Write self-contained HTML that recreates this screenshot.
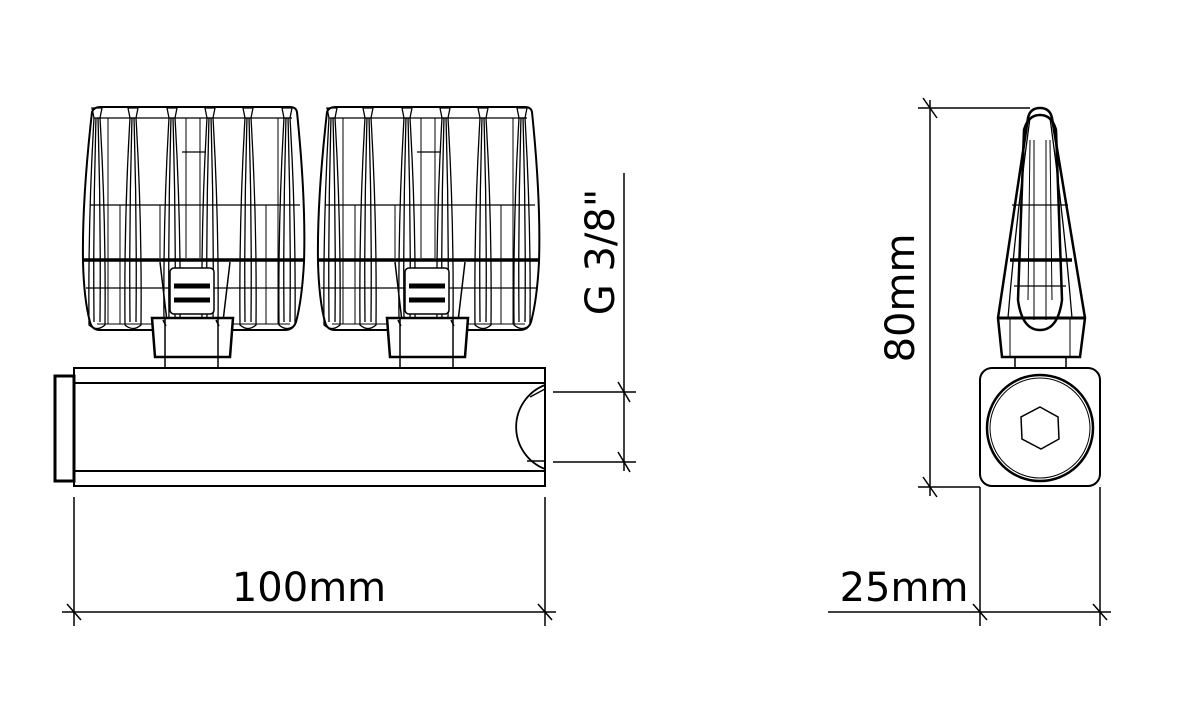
<!DOCTYPE html>
<html><head><meta charset="utf-8"><style>
html,body{margin:0;padding:0;background:#fff;}
svg{display:block}
text{font-family:"DejaVu Sans","Liberation Sans",sans-serif;fill:#000}
</style></head><body>
<svg width="1181" height="708" viewBox="0 0 1181 708" xmlns="http://www.w3.org/2000/svg">
<defs>
<g id="rib" fill="none" stroke="#000" stroke-width="1.3">
  <path d="M-5,108 L5,108 L3,118 L-3,118 Z"/>
  <path d="M-3,118 Q-9,220 -8,325 Q0,332 8,325 Q9,220 3,118"/>
  <path d="M-1,118 Q-4,220 -3,322 M1,118 Q4,220 3,322"/>
</g>
<g id="valve" fill="none" stroke="#000">
  <path d="M92,112 Q94,107 100,107 L290,107 Q296,107 297,112 Q306,200 304,262 Q302,300 296,322 Q293,330 285,330 L100,330 Q92,330 90,322 Q84,300 83,262 Q82,200 92,112 Z" stroke-width="2"/>
  <path d="M97,118 L292,118" stroke-width="1.2"/>
  <path d="M90,205 L300,205" stroke-width="1.2"/>
  <path d="M83,260 L304,260" stroke-width="3.5"/>
  <path d="M86,288 L301,288" stroke-width="1.2"/>
  <path d="M97,324 L290,324" stroke-width="1"/>
  <path d="M182,152 L206,152" stroke-width="1.2"/>
  <use href="#rib" transform="translate(97,0)"/>
  <use href="#rib" transform="translate(133,0)"/>
  <use href="#rib" transform="translate(172,0)"/>
  <use href="#rib" transform="translate(210,0)"/>
  <use href="#rib" transform="translate(248,0)"/>
  <use href="#rib" transform="translate(287,0)"/>
  <path d="M108,118 L108,324 M120,205 L120,324 M160,205 L160,258 M186,118 L186,258 M200,118 L200,258 M266,205 L266,324 M278,118 L278,324" stroke-width="1"/>
  <path d="M160,262 L168,330 L222,330 L230,262" stroke-width="1.5"/>
  <rect x="170" y="268" width="44" height="46" rx="4" fill="#fff" stroke-width="1.5"/>
  <path d="M174,286 L210,286 M174,300 L210,300" stroke-width="5"/>
  <path d="M152,318 L233,318 L230,357 L155,357 Z" fill="#fff" stroke-width="2.5"/>
  <path d="M165,318 L165,368 M218,318 L218,368" stroke-width="1.5"/>
  <path d="M163,320 l3,6 M216,320 l3,6" stroke-width="1.5"/>
</g>
</defs>

<g fill="none" stroke="#000">
  <use href="#valve"/>
  <use href="#valve" transform="translate(235,0)"/>

  <rect x="74" y="368" width="471" height="118" stroke-width="2"/>
  <path d="M74,383 L545,383 M74,471 L545,471" stroke-width="2"/>
  <rect x="55" y="376" width="19" height="105" stroke-width="3"/>
  <path d="M545,385 A45,45 0 0 0 545,469" stroke-width="1.8"/>
  <path d="M530,397 L545,389" stroke-width="1.5"/>
  <path d="M527,461 L545,461" stroke-width="1.5"/>

  <path d="M553,392 L636,392 M553,462 L636,462 M624,173 L624,471" stroke-width="1.5"/>
  <path d="M618,382 L630,402 M618,452 L630,472" stroke-width="1.5"/>

  <path d="M74,497 L74,626 M545,497 L545,626 M62,612 L556,612" stroke-width="1.5"/>
  <path d="M67,604 L81,620 M538,604 L552,620" stroke-width="1.5"/>

  <path d="M1028,118 Q1030,108 1040,108 Q1050,108 1052,118 L1085,318 L1080,357 L1002,357 L998,318 Z" stroke-width="2.5"/>
  <path d="M1030,118 Q1016,220 1008,318 M1050,118 Q1064,220 1072,318" stroke-width="1.3"/>
  <path d="M1024,130 L1018,300 Q1022,330 1040,330 Q1058,330 1062,300 L1056,130 Q1052,115 1040,115 Q1028,115 1024,130 Z" stroke-width="2.5"/>
  <path d="M1030,140 L1028,300 M1050,140 L1052,300 M1034,140 L1034,320 M1046,140 L1046,320" stroke-width="1"/>
  <path d="M1012,205 L1068,205" stroke-width="1.2"/>
  <path d="M1010,260 L1072,260" stroke-width="3.5"/>
  <path d="M1014,286 L1066,286" stroke-width="1.2"/>
  <path d="M998,318 L1086,318" stroke-width="3"/>
  <path d="M1010,318 L1010,357 M1070,318 L1070,357" stroke-width="1"/>
  <path d="M1015,357 L1015,368 M1066,357 L1066,368" stroke-width="1.5"/>
  <rect x="980" y="368" width="120" height="118" rx="12" stroke-width="2"/>
  <circle cx="1040" cy="428" r="53" stroke-width="2.5"/>
  <circle cx="1040" cy="428" r="50" stroke-width="1"/>
  <polygon points="1040,407 1058,417 1059,439 1041,449 1022,439 1021,417" stroke-width="1.5"/>

  <path d="M918,108 L1030,108 M918,487 L980,487 M930,100 L930,496" stroke-width="1.5"/>
  <path d="M923,98 L937,118 M923,477 L937,497" stroke-width="1.5"/>

  <path d="M980,487 L980,626 M1100,487 L1100,626 M828,612 L1111,612" stroke-width="1.5"/>
  <path d="M973,604 L987,620 M1093,604 L1107,620" stroke-width="1.5"/>
</g>

<text x="309" y="601" font-size="40" text-anchor="middle">100mm</text>
<text x="904" y="601" font-size="40" text-anchor="middle">25mm</text>
<text transform="translate(914,298) rotate(-90)" font-size="40" text-anchor="middle">80mm</text>
<text transform="translate(614,252) rotate(-90)" font-size="40" text-anchor="middle">G 3/8"</text>
</svg>
</body></html>
